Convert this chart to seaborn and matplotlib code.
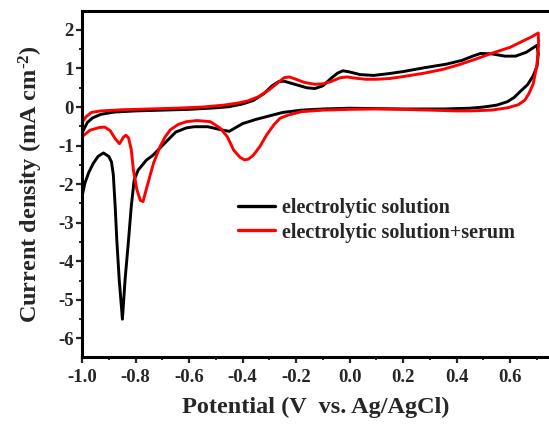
import numpy as np
import pandas as pd
import matplotlib
matplotlib.use("Agg")
import matplotlib.pyplot as plt
import seaborn as sns
from matplotlib.ticker import MultipleLocator

# ---------------- data ----------------
series_names = ["electrolytic solution", "electrolytic solution+serum"]

# black: electrolytic solution (anodic sweep, then cathodic sweep)
black_up_V = [-1.0, -0.98, -0.96, -0.93, -0.88, -0.80, -0.70, -0.60, -0.50, -0.45, -0.40, -0.36,
              -0.32, -0.29, -0.265, -0.245, -0.22, -0.195, -0.16, -0.13, -0.10, -0.07, -0.045,
              -0.025, 0.0, 0.04, 0.09, 0.15, 0.20, 0.28, 0.36, 0.42, 0.46, 0.49, 0.53, 0.58,
              0.62, 0.66, 0.70]
black_up_I = [-0.67, -0.40, -0.28, -0.19, -0.13, -0.10, -0.08, -0.06, -0.02, 0.01, 0.08, 0.17,
              0.35, 0.55, 0.66, 0.67, 0.62, 0.57, 0.50, 0.48, 0.55, 0.74, 0.88,
              0.94, 0.91, 0.84, 0.82, 0.87, 0.92, 1.02, 1.11, 1.21, 1.32, 1.39, 1.38, 1.32,
              1.32, 1.42, 1.60]
black_dn_V = [0.705, 0.70, 0.685, 0.665, 0.64, 0.615, 0.59, 0.55, 0.50, 0.45, 0.35, 0.20, 0.10,
              0.0, -0.10, -0.18, -0.25, -0.30, -0.35, -0.40, -0.43, -0.45, -0.48, -0.53, -0.58,
              -0.61, -0.65, -0.70, -0.735, -0.76, -0.78, -0.79, -0.805, -0.816, -0.826, -0.839,
              -0.849, -0.861, -0.87, -0.876, -0.883, -0.89, -0.90, -0.92, -0.94, -0.958, -0.975,
              -0.989, -1.0]
black_dn_I = [1.38, 1.05, 0.80, 0.58, 0.42, 0.25, 0.14, 0.05, 0.00, -0.03, -0.05, -0.05, -0.04,
              -0.03, -0.05, -0.08, -0.14, -0.23, -0.32, -0.43, -0.55, -0.63, -0.59, -0.51, -0.51,
              -0.54, -0.65, -1.00, -1.25, -1.38, -1.55, -1.63, -1.89, -2.58, -3.44, -4.47,
              -5.50, -4.47, -3.44, -2.58, -1.75, -1.42, -1.28, -1.19, -1.28, -1.46, -1.70,
              -1.97, -2.32]

# red: electrolytic solution + serum
red_up_V = [-1.0, -0.985, -0.965, -0.93, -0.85, -0.75, -0.65, -0.55, -0.47, -0.42, -0.38, -0.34,
            -0.30, -0.27, -0.245, -0.225, -0.20, -0.17, -0.13, -0.10, -0.07, -0.035, -0.01,
            0.02, 0.06, 0.10, 0.15, 0.20, 0.28, 0.35, 0.41, 0.47, 0.53, 0.60, 0.65, 0.68, 0.705]
red_up_I = [-0.40, -0.25, -0.14, -0.10, -0.07, -0.05, -0.03, 0.00, 0.05, 0.10, 0.16, 0.27,
            0.45, 0.62, 0.76, 0.78, 0.72, 0.64, 0.59, 0.60, 0.66, 0.76, 0.78,
            0.75, 0.72, 0.72, 0.74, 0.79, 0.88, 0.98, 1.10, 1.24, 1.39, 1.55, 1.72, 1.82, 1.92]
red_dn_V = [0.706, 0.70, 0.686, 0.67, 0.655, 0.63, 0.59, 0.53, 0.45, 0.40, 0.30, 0.20, 0.10, 0.0,
            -0.10, -0.18, -0.23, -0.26, -0.283, -0.31, -0.335, -0.36, -0.378, -0.393, -0.41,
            -0.433, -0.457, -0.483, -0.52, -0.57, -0.61, -0.64, -0.67, -0.69, -0.708, -0.733,
            -0.757, -0.772, -0.782, -0.795, -0.808, -0.816, -0.826, -0.836, -0.845, -0.86,
            -0.876, -0.895, -0.915, -0.935, -0.97, -1.0]
red_dn_I = [1.60, 1.10, 0.60, 0.35, 0.18, 0.06, -0.02, -0.08, -0.10, -0.10, -0.08, -0.06, -0.05,
            -0.06, -0.08, -0.12, -0.21, -0.29, -0.46, -0.72, -1.02, -1.25, -1.35, -1.37, -1.30,
            -1.12, -0.77, -0.55, -0.38, -0.35, -0.38, -0.45, -0.59, -0.78, -1.02, -1.46,
            -2.06, -2.45, -2.42, -2.14, -1.63, -1.10, -0.80, -0.73, -0.78, -0.95,
            -0.82, -0.61, -0.52, -0.53, -0.60, -0.77]

x_ticks = [-1.0, -0.8, -0.6, -0.4, -0.2, 0.0, 0.2, 0.4, 0.6]
x_tick_labels = ["-1.0", "-0.8", "-0.6", "-0.4", "-0.2", "0.0", "0.2", "0.4", "0.6"]
y_ticks = [-6, -5, -4, -3, -2, -1, 0, 1, 2]
y_tick_labels = ["-6", "-5", "-4", "-3", "-2", "-1", "0", "1", "2"]

# ---------------- build table ----------------
frames = []
for name, V, I in [(series_names[0], black_up_V + black_dn_V, black_up_I + black_dn_I),
                   (series_names[1], red_up_V + red_dn_V, red_up_I + red_dn_I)]:
    frames.append(pd.DataFrame({"V": V, "I": I, "series": name}))
df = pd.concat(frames, ignore_index=True)

# ---------------- style ----------------
sns.set_style("ticks")
plt.rcParams.update({
    "font.family": ["Liberation Serif", "DejaVu Serif"],
    "font.weight": "bold",
    "axes.labelweight": "bold",
    "axes.unicode_minus": False,
    "mathtext.fontset": "custom",
    "mathtext.rm": "Liberation Serif:bold",
    "mathtext.it": "Liberation Serif:bold",
    "mathtext.bf": "Liberation Serif:bold",
    "mathtext.default": "regular",
    "lines.solid_joinstyle": "round",
})

fig = plt.figure(figsize=(5.49, 4.30), dpi=100)
ax = fig.add_axes([82 / 549, 1 - 357 / 430, 1 - 82 / 549, (357 - 11) / 430])

sns.lineplot(data=df, x="V", y="I", hue="series", hue_order=series_names,
             palette=["black", "#ff0000"], sort=False, estimator=None,
             linewidth=2.1, ax=ax)
for ln in ax.get_lines():
    ln.set_solid_joinstyle("round")
    ln.set_solid_capstyle("round")

ax.set_xlim(-1.0, 0.745)
ax.set_ylim(-6.48, 2.49)

ax.set_xticks(x_ticks)
ax.set_xticklabels(x_tick_labels)
ax.set_yticks(y_ticks)
ax.set_yticklabels(y_tick_labels)
ax.xaxis.set_minor_locator(MultipleLocator(0.1))
ax.yaxis.set_minor_locator(MultipleLocator(0.5))

ax.tick_params(which="major", direction="out", length=4.5, width=1.6, labelsize=13.5,
               top=False, right=False)
ax.tick_params(which="minor", direction="out", length=2.5, width=1.4, top=False, right=False)
ax.tick_params(axis="y", which="major", pad=1.5)
ax.tick_params(axis="x", which="major", pad=4)
for lab in ax.get_xticklabels() + ax.get_yticklabels():
    lab.set_fontweight("bold")

for side in ["left", "bottom", "top"]:
    ax.spines[side].set_linewidth(2.2)
    ax.spines[side].set_color("black")
ax.spines["right"].set_visible(False)

ax.set_xlabel("Potential (V  vs. Ag/AgCl)", fontsize=17.5, fontweight="bold")
ax.set_ylabel(r"Current density (mA cm$^{\text{-2}}$)", fontsize=17.5, fontweight="bold")
ax.xaxis.set_label_coords(0.5, -0.115)
ax.yaxis.set_label_coords(-0.08, 0.5)

handles, labels = ax.get_legend_handles_labels()
leg = ax.legend(handles, labels, loc="center left", bbox_to_anchor=(0.334, 0.3945),
                frameon=False, fontsize=14.5, handlelength=1.85, handletextpad=0.35,
                labelspacing=0.2, borderpad=0, borderaxespad=0)
for t in leg.get_texts():
    t.set_fontweight("bold")
for h in leg.get_lines():
    h.set_linewidth(2.4)

fig.savefig("out.png", dpi=100)
